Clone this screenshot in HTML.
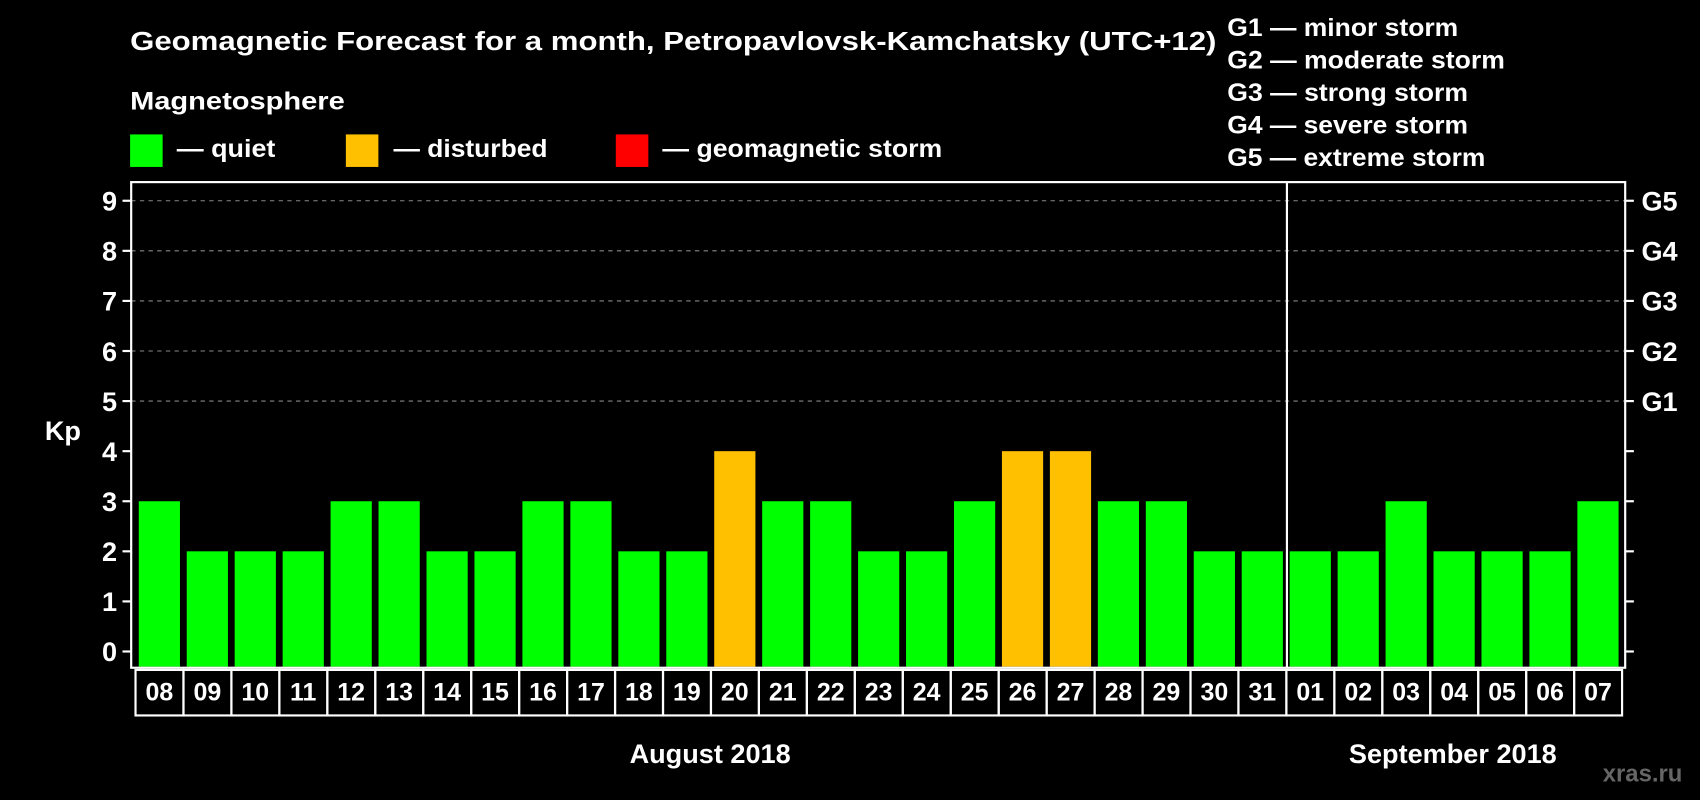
<!DOCTYPE html>
<html><head><meta charset="utf-8"><style>
html,body{margin:0;padding:0;background:#000;}
svg{display:block;font-family:"Liberation Sans",Arial,sans-serif;font-weight:bold;}
</style></head><body>
<svg id="chart" width="1700" height="800" viewBox="0 0 1568 738" preserveAspectRatio="none">
<rect x="0" y="0" width="1568" height="738" fill="#000"/>
<text x="120" y="46" fill="#fff" font-size="24" textLength="1002" lengthAdjust="spacingAndGlyphs">Geomagnetic Forecast for a month, Petropavlovsk-Kamchatsky (UTC+12)</text>
<text x="120" y="101" fill="#fff" font-size="23" textLength="198" lengthAdjust="spacingAndGlyphs">Magnetosphere</text>
<g>
<rect x="120" y="124" width="30" height="30" fill="#00ff00"/>
<text x="163" y="145" fill="#fff" font-size="23" textLength="91" lengthAdjust="spacingAndGlyphs">— quiet</text></g>
<g>
<rect x="319" y="124" width="30" height="30" fill="#ffc000"/>
<text x="363" y="145" fill="#fff" font-size="23" textLength="142" lengthAdjust="spacingAndGlyphs">— disturbed</text></g>
<g>
<rect x="568" y="124" width="30" height="30" fill="#ff0000"/>
<text x="611" y="145" fill="#fff" font-size="23" textLength="258" lengthAdjust="spacingAndGlyphs">— geomagnetic storm</text></g>
<g fill="#fff" font-size="23">
<text x="1132" y="33" textLength="213" lengthAdjust="spacingAndGlyphs">G1 — minor storm</text>
<text x="1132" y="63" textLength="256" lengthAdjust="spacingAndGlyphs">G2 — moderate storm</text>
<text x="1132" y="93" textLength="222" lengthAdjust="spacingAndGlyphs">G3 — strong storm</text>
<text x="1132" y="123" textLength="222" lengthAdjust="spacingAndGlyphs">G4 — severe storm</text>
<text x="1132" y="153" textLength="238" lengthAdjust="spacingAndGlyphs">G5 — extreme storm</text>
</g>
<text x="58" y="406" fill="#fff" font-size="25" text-anchor="middle">Kp</text>
<g id="grid"></g>
<g id="bars"></g>
<rect x="121" y="168" width="1378" height="448" fill="none" stroke="#fff" stroke-width="2"/>
<line x1="1187" y1="168" x2="1187" y2="616" stroke="#fff" stroke-width="2"/>
<g id="axes"></g>
<text x="655" y="704" fill="#fff" font-size="25" text-anchor="middle">August 2018</text>
<text x="1340" y="704" fill="#fff" font-size="25" text-anchor="middle">September 2018</text>
<text x="1515" y="721" fill="#666" font-size="22" text-anchor="middle">xras.ru</text>
</svg>
<script>
const days = ["08","09","10","11","12","13","14","15","16","17","18","19","20","21","22","23","24","25","26","27","28","29","30","31","01","02","03","04","05","06","07"];
const kpValues = [3,2,2,2,3,3,2,2,3,3,2,2,4,3,3,2,2,3,4,4,3,3,2,2,2,2,3,2,2,2,3];
const yTicks = [0,1,2,3,4,5,6,7,8,9];
const gLabels = ["","","","","","G1","G2","G3","G4","G5"];
const NS = "http://www.w3.org/2000/svg";
const y0 = 601, unit = 46.2;
const yScale = v => y0 - v * unit;
const barStart = 128, step = 44.23, barW = 38;
const xScale = i => barStart + i * step;
function mk(tag, attrs, parent){const e=document.createElementNS(NS,tag);for(const k in attrs)e.setAttribute(k,attrs[k]);parent.appendChild(e);return e;}
const grid=document.getElementById('grid'), bars=document.getElementById('bars'), axes=document.getElementById('axes');
yTicks.forEach((t,i)=>{
  const y=yScale(t);
  if(t>=5){const l=mk('line',{x1:121,x2:1499,y1:y,y2:y,stroke:'#888','stroke-dasharray':'4,4','stroke-width':1},grid);
  
  }
  const tl=mk('line',{x1:113,x2:121,y1:y,y2:y,stroke:'#fff','stroke-width':2},axes);
  
  
  const tr=mk('line',{x1:1499,x2:1507,y1:y,y2:y,stroke:'#fff','stroke-width':2},axes);
  
  
  const tx=mk('text',{x:108,y:y+9,fill:'#fff','font-size':25,'text-anchor':'end'},axes);
  tx.textContent=t;
  
  
  if(gLabels[i]){const g=mk('text',{x:1514,y:y+9,fill:'#fff','font-size':25},axes);
  g.textContent=gLabels[i];
  
  }
});
days.forEach((d,i)=>{
  const v=kpValues[i], x=xScale(i);
  const col=v>=5?'#ff0000':(v>=4?'#ffc000':'#00ff00');
  const r=mk('rect',{x:x,y:yScale(v),width:barW,height:615-yScale(v),fill:col},bars);
  
  
  const b=mk('rect',{x:x-3,y:618,width:step,height:42,fill:'none',stroke:'#fff','stroke-width':2},axes);
  
  
  const t=mk('text',{x:x+barW/2,y:646,fill:'#fff','font-size':23,'text-anchor':'middle'},axes);
  t.textContent=d;
  
  
});
</script>
</body></html>
